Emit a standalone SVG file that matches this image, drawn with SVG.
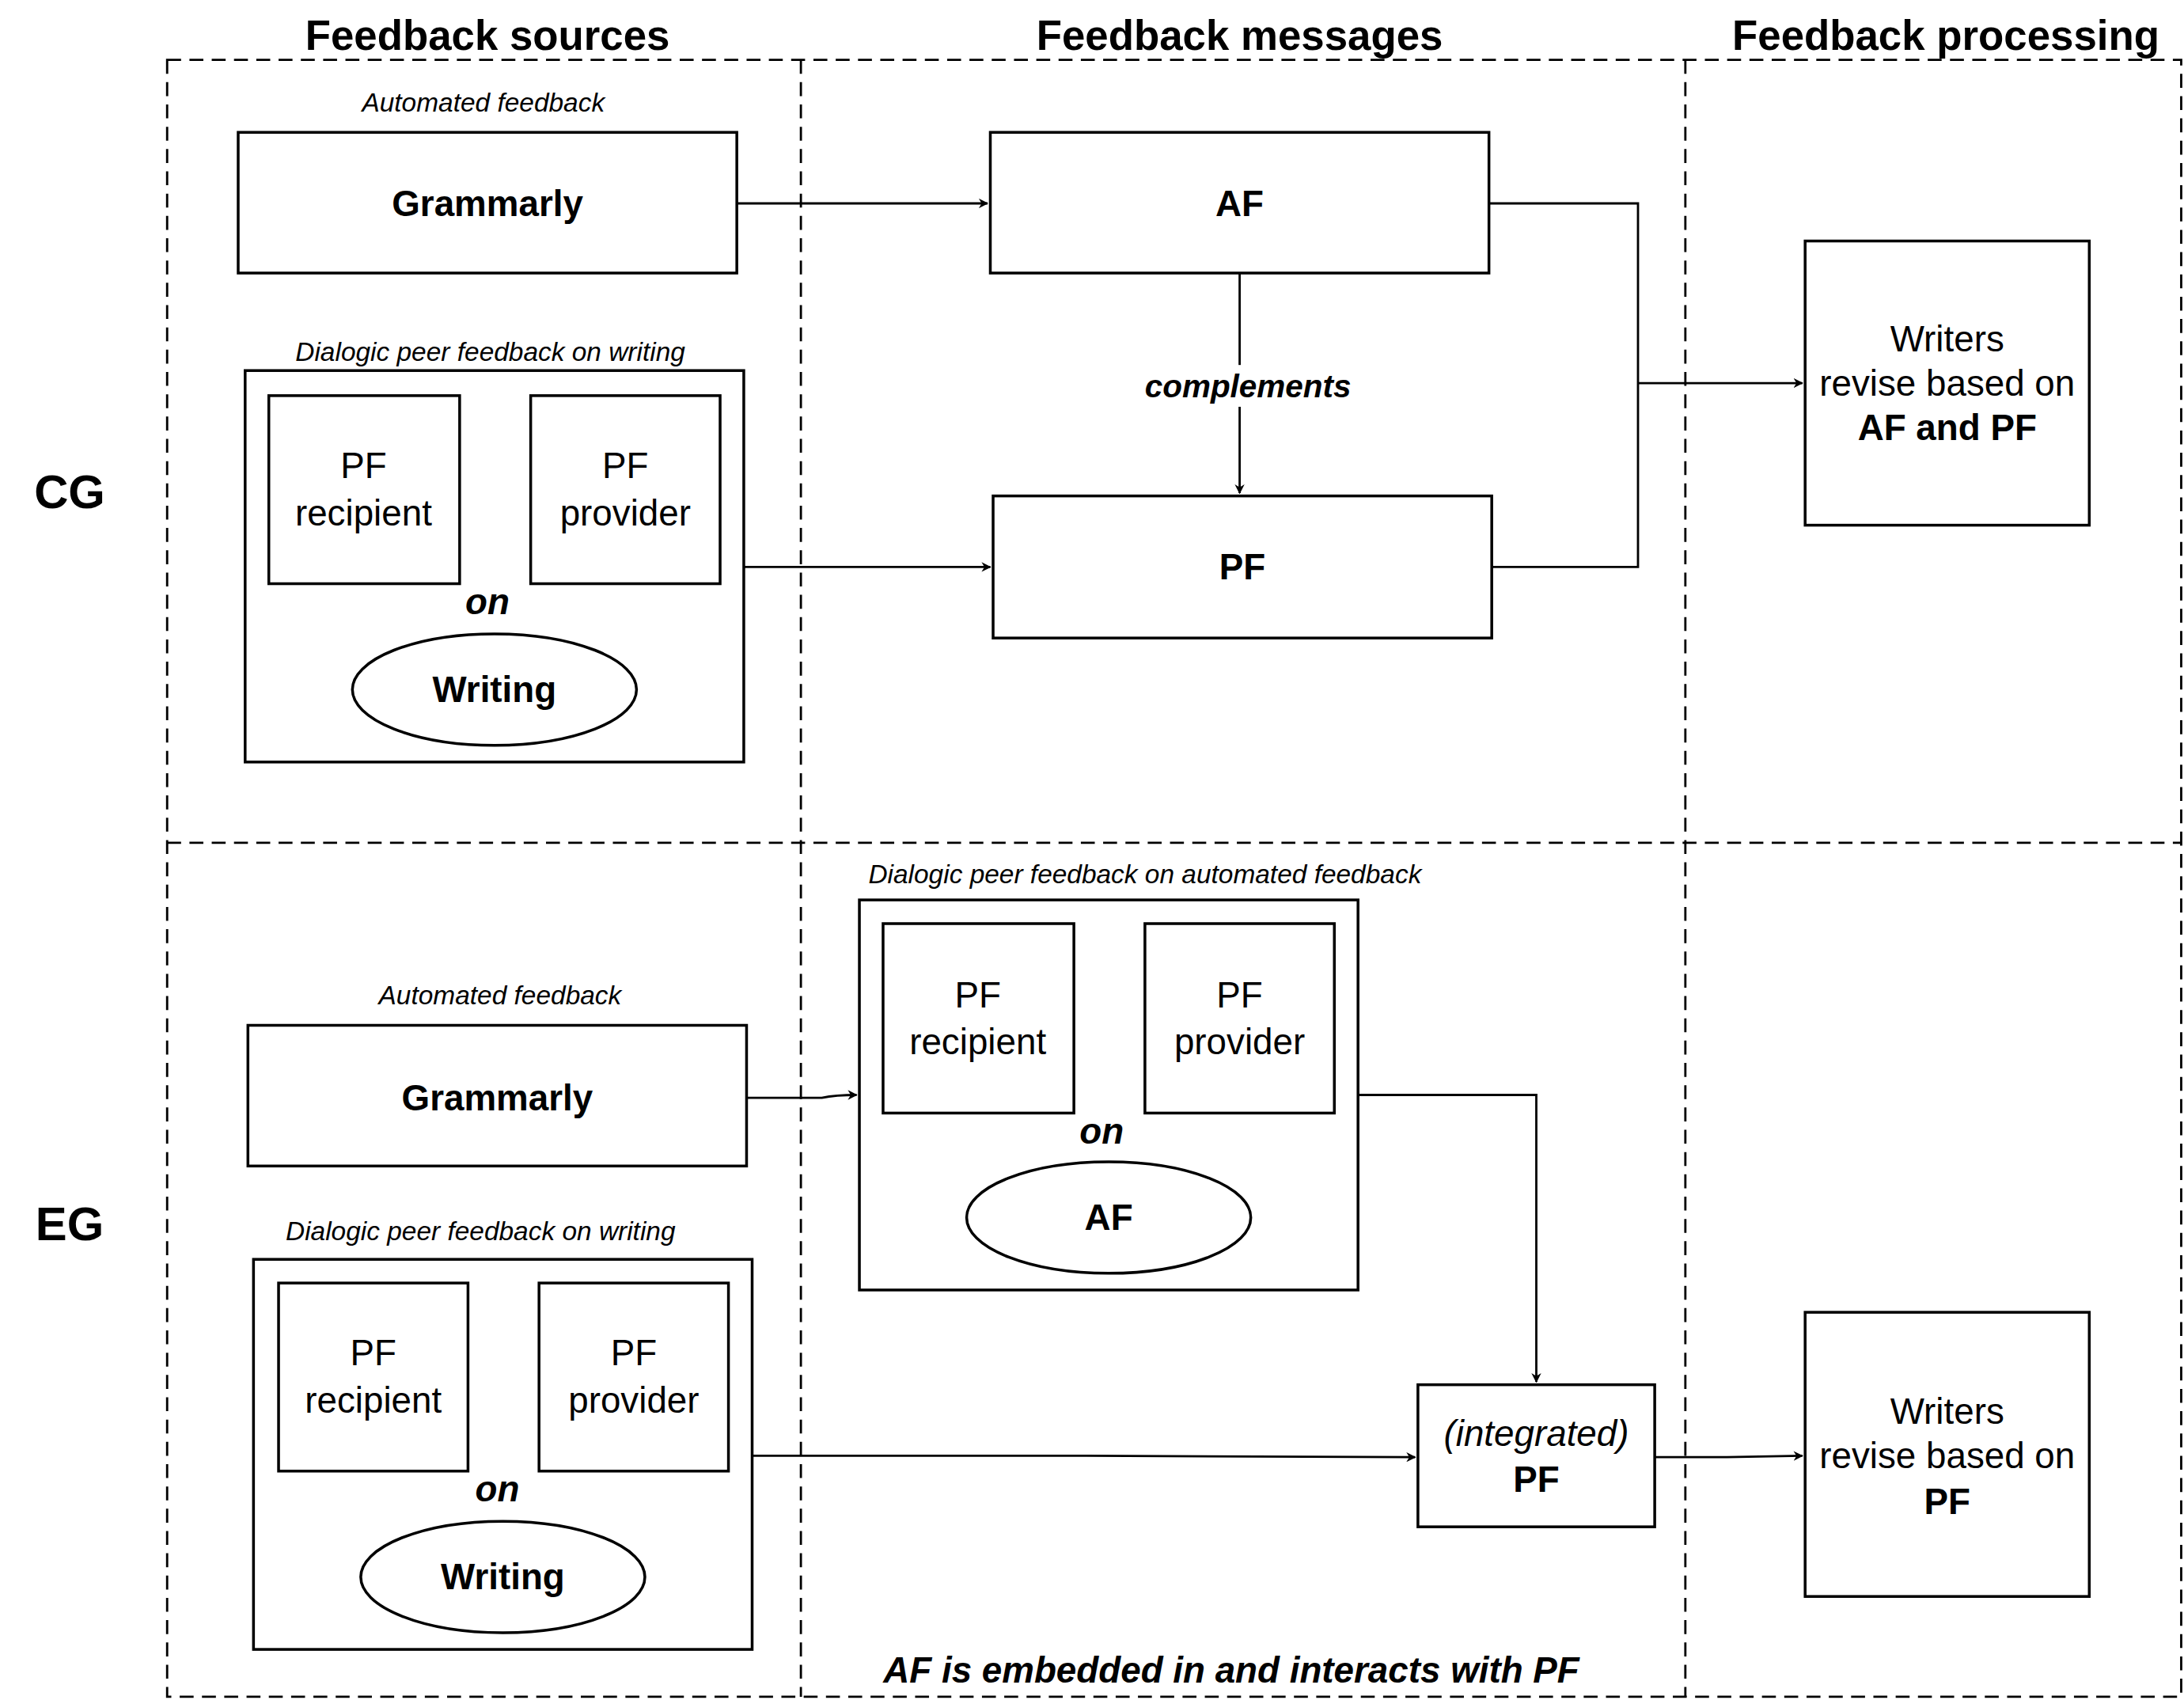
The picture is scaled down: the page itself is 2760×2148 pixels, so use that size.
<svg xmlns="http://www.w3.org/2000/svg" width="2760" height="2148" viewBox="0 0 2760 2148">
<defs>
<marker id="ah" viewBox="0 0 10 10" refX="9" refY="5" markerWidth="7" markerHeight="7" orient="auto-start-reverse" markerUnits="userSpaceOnUse"><path d="M0,0 L10,5 L0,10 L3,5 z" fill="#000"/></marker>
<style>
text{font-family:"Liberation Sans",Arial,sans-serif;fill:#000;text-anchor:middle}
.box{fill:#fff;stroke:#000;stroke-width:2}
.dash{fill:none;stroke:#000;stroke-width:1.6;stroke-dasharray:10,6}
.con{fill:none;stroke:#000;stroke-width:1.6}
.h{font-size:30px;font-weight:bold}
.g{font-size:34px;font-weight:bold}
.lab{font-size:19px;font-style:italic}
.t{font-size:26px}
.b{font-size:26px;font-weight:bold}
.bi{font-size:26px;font-weight:bold;font-style:italic}
</style>
</defs>
<rect width="2760" height="2148" fill="#fff"/>
<g transform="scale(1.7602)">
<g id="lanes">
<rect class="dash" x="120" y="43" width="1446" height="1175"/>
<line class="dash" x1="575" y1="43" x2="575" y2="1218"/>
<line class="dash" x1="1210" y1="43" x2="1210" y2="1218"/>
<line class="dash" x1="120" y1="605" x2="1566" y2="605"/>
<text class="h" x="350" y="36">Feedback sources</text>
<text class="h" x="890" y="36">Feedback messages</text>
<text class="h" x="1397" y="36">Feedback processing</text>
<text class="g" x="50" y="365">CG</text>
<text class="g" x="50" y="890">EG</text>
<text class="bi" x="884" y="1208">AF is embedded in and interacts with PF</text>
</g>
<g id="connectors">
<path class="con" d="M529,146 H709" marker-end="url(#ah)"/>
<path class="con" d="M534,407 H711" marker-end="url(#ah)"/>
<path class="con" d="M890,196 V354" marker-end="url(#ah)"/>
<path class="con" d="M1069,146 H1176 V407 H1071"/>
<path class="con" d="M1176,275 H1294" marker-end="url(#ah)"/>
<path class="con" d="M332,352 H379" marker-start="url(#ah)" marker-end="url(#ah)"/>
<path class="con" d="M536,788 H590 Q600,786 615,786" marker-end="url(#ah)"/>
<path class="con" d="M773,731 H820" marker-start="url(#ah)" marker-end="url(#ah)"/>
<path class="con" d="M975,786 H1103 V992" marker-end="url(#ah)"/>
<path class="con" d="M338,989 H385" marker-start="url(#ah)" marker-end="url(#ah)"/>
<path class="con" d="M540,1045 H780 L1016,1046" marker-end="url(#ah)"/>
<path class="con" d="M1188,1046 H1240 L1294,1045" marker-end="url(#ah)"/>
<rect x="810" y="262" width="170" height="30" fill="#fff"/>
<text class="bi" x="896" y="285" style="font-size:23px">complements</text>
</g>
<g id="cg-grammarly">
<text class="lab" x="347" y="80">Automated feedback</text>
<rect class="box" x="171" y="95" width="358" height="101"/>
<text class="b" x="350" y="155">Grammarly</text>
</g>
<g id="cg-dialogic">
<text class="lab" x="352" y="259">Dialogic peer feedback on writing</text>
<rect class="box" x="176" y="266" width="358" height="281"/>
<rect class="box" x="193" y="284" width="137" height="135"/>
<text class="t" x="261" y="343">PF</text><text class="t" x="261" y="377">recipient</text>
<rect class="box" x="381" y="284" width="136" height="135"/>
<text class="t" x="449" y="343">PF</text><text class="t" x="449" y="377">provider</text>
<text class="bi" x="350" y="441">on</text>
<ellipse class="box" cx="355" cy="495" rx="102" ry="40"/>
<text class="b" x="355" y="504">Writing</text>
</g>
<g id="cg-af"><rect class="box" x="711" y="95" width="358" height="101"/><text class="b" x="890" y="155">AF</text></g>
<g id="cg-pf"><rect class="box" x="713" y="356" width="358" height="102"/><text class="b" x="892" y="416">PF</text></g>
<g id="cg-writers">
<rect class="box" x="1296" y="173" width="204" height="204"/>
<text class="t" x="1398" y="252">Writers</text>
<text class="t" x="1398" y="284">revise based on</text>
<text class="b" x="1398" y="316">AF and PF</text>
</g>
<g id="eg-grammarly">
<text class="lab" x="359" y="721">Automated feedback</text>
<rect class="box" x="178" y="736" width="358" height="101"/>
<text class="b" x="357" y="797">Grammarly</text>
</g>
<g id="eg-dialogic-af">
<text class="lab" x="822" y="634">Dialogic peer feedback on automated feedback</text>
<rect class="box" x="617" y="646" width="358" height="280"/>
<rect class="box" x="634" y="663" width="137" height="136"/>
<text class="t" x="702" y="723">PF</text><text class="t" x="702" y="757">recipient</text>
<rect class="box" x="822" y="663" width="136" height="136"/>
<text class="t" x="890" y="723">PF</text><text class="t" x="890" y="757">provider</text>
<text class="bi" x="791" y="821">on</text>
<ellipse class="box" cx="796" cy="874" rx="102" ry="40"/>
<text class="b" x="796" y="883">AF</text>
</g>
<g id="eg-dialogic-writing">
<text class="lab" x="345" y="890">Dialogic peer feedback on writing</text>
<rect class="box" x="182" y="904" width="358" height="280"/>
<rect class="box" x="200" y="921" width="136" height="135"/>
<text class="t" x="268" y="980">PF</text><text class="t" x="268" y="1014">recipient</text>
<rect class="box" x="387" y="921" width="136" height="135"/>
<text class="t" x="455" y="980">PF</text><text class="t" x="455" y="1014">provider</text>
<text class="bi" x="357" y="1078">on</text>
<ellipse class="box" cx="361" cy="1132" rx="102" ry="40"/>
<text class="b" x="361" y="1141">Writing</text>
</g>
<g id="eg-integrated">
<rect class="box" x="1018" y="994" width="170" height="102"/>
<text class="t" x="1103" y="1038" font-style="italic">(integrated)</text>
<text class="b" x="1103" y="1071">PF</text>
</g>
<g id="eg-writers">
<rect class="box" x="1296" y="942" width="204" height="204"/>
<text class="t" x="1398" y="1022">Writers</text>
<text class="t" x="1398" y="1054">revise based on</text>
<text class="b" x="1398" y="1087">PF</text>
</g>
</g>
</svg>
